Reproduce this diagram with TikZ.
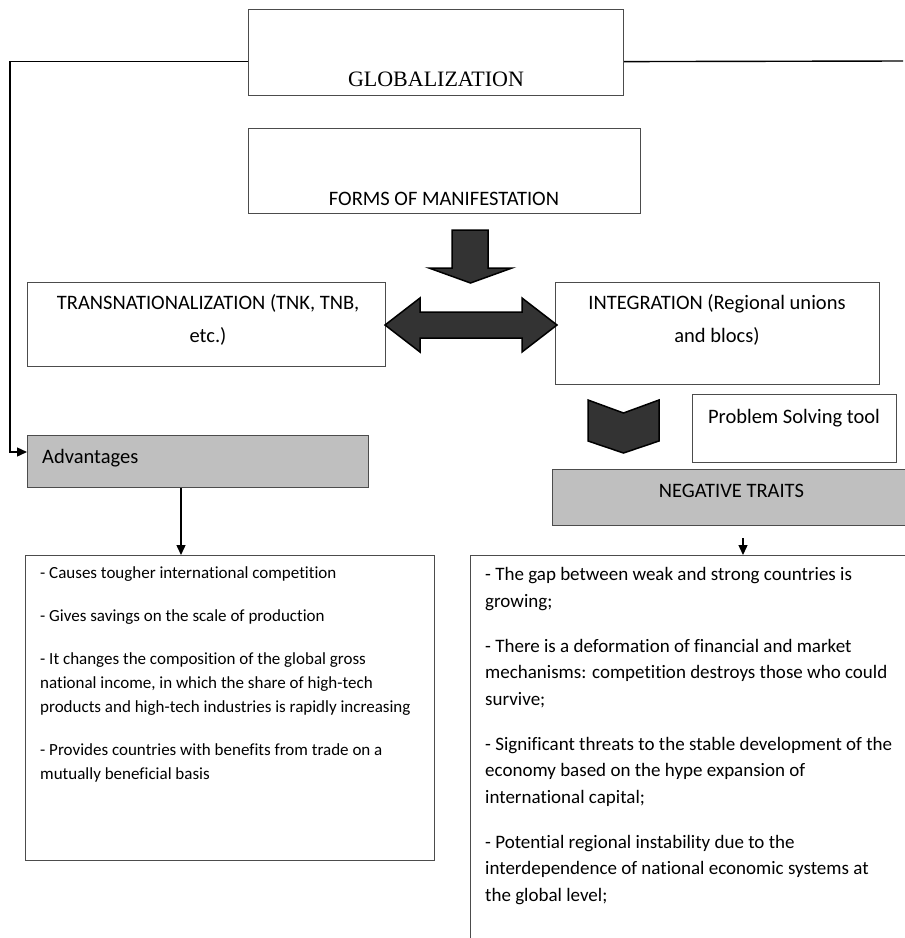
\documentclass[tikz,border=0pt]{standalone}
\usepackage{fontspec}
\setmainfont[Ligatures=NoCommon]{Carlito}
\newfontfamily\serifface{Liberation Serif}
\usetikzlibrary{arrows.meta}
\definecolor{traitgrey}{RGB}{191,191,191}
\definecolor{arrowfill}{RGB}{51,51,51}

\begin{document}
\begin{tikzpicture}[x=1pt,y=-1pt,>={Triangle[length=10pt,width=9pt]},
  box/.style={draw=black!70,line width=1.2pt,anchor=north west,inner sep=0pt},
  greybox/.style={box,fill=traitgrey},
  lbl/.style={font=\fontsize{20.5}{33}\selectfont,inner sep=0pt,anchor=base},
  listtxt/.style={align=left,inner sep=0pt,anchor=north west},
  link/.style={line width=1.4pt,->},
  blockarrow/.style={fill=arrowfill,draw=black,line width=1.5pt,line join=miter}]
  \useasboundingbox (0,0) rectangle (905,938);
  % boxes
  \node[box,minimum width=375,minimum height=86] (glob) at (248,9) {};
  \node[box,minimum width=392,minimum height=85] (forms) at (248,128) {};
  \node[box,minimum width=358,minimum height=84] (trans) at (27,282) {};
  \node[box,minimum width=324,minimum height=102] (integ) at (555,282) {};
  \node[box,minimum width=204,minimum height=68] (probl) at (692,394) {};
  \node[greybox,minimum width=341,minimum height=52] (adv) at (27,435) {};
  \node[greybox,minimum width=380,minimum height=56] (negtr) at (552,469) {};
  \node[box,minimum width=409,minimum height=305] (pros) at (25,555) {};
  \node[box,minimum width=460,minimum height=420] (cons) at (470,555) {};
  % labels
  \node[lbl,font=\serifface\fontsize{22}{24}\selectfont] (globtxt) at (436,86) {GLOBALIZATION};
  \node[lbl] (formstxt) at (444,205.5) {FORMS OF MANIFESTATION};
  \node[lbl,anchor=center,align=center] (transtxt) at (208,320) {TRANSNATIONALIZATION (TNK, TNB,\\etc.)};
  \node[lbl,anchor=center,align=center] (integtxt) at (717,320) {INTEGRATION (Regional unions\\and blocs)};
  \node[lbl] (probltxt) at (794,423) {Problem Solving tool};
  \node[lbl] (negtrtxt) at (731.5,497.5) {NEGATIVE TRAITS};
  \node[lbl,anchor=base west] (advtxt) at (42,463) {Advantages};
  \node[listtxt,font=\fontsize{17}{24}\selectfont] (prostxt) at (40,566.5) {%
    - Causes tougher international competition\\[19pt]
    - Gives savings on the scale of production\\[19pt]
    - It changes the composition of the global gross\\
    national income, in which the share of high-tech\\
    products and high-tech industries is rapidly increasing\\[19pt]
    - Provides countries with benefits from trade on a\\
    mutually beneficial basis};
  \node[listtxt,font=\fontsize{19}{26.5}\selectfont] (constxt) at (485,567.5) {%
    - The gap between weak and strong countries is\\
    growing;\\[18.5pt]
    - There is a deformation of financial and market\\
    mechanisms: competition destroys those who could\\
    survive;\\[18.5pt]
    - Significant threats to the stable development of the\\
    economy based on the hype expansion of\\
    international capital;\\[18.5pt]
    - Potential regional instability due to the\\
    interdependence of national economic systems at\\
    the global level;};
  % block arrows
  \draw[blockarrow] (452,230) -- (488,230) -- (488,268) -- (512,268) -- (470.5,283)
    -- (429,268) -- (452,268) -- cycle;
  \draw[blockarrow] (385,325) -- (420,298) -- (420,312) -- (522,312) -- (522,298)
    -- (557,325) -- (522,352) -- (522,338) -- (420,338) -- (420,352) -- cycle;
  \draw[blockarrow] (588,400) -- (623.5,413) -- (659,400) -- (659,441) -- (623.5,453)
    -- (588,441) -- cycle;
  % connectors
  \coordinate (bend) at (10,452);
  \coordinate (offpage) at (903,61);
  \coordinate (tick) at (743,538);
  \draw[link] ([yshift=-9pt]glob.west) -| (bend) -- (bend -| adv.west);
  \draw[line width=1.4pt] ([yshift=-9pt]glob.east) -- (offpage);
  \draw[link] ([xshift=154pt]adv.south west) coordinate (drop) -- (drop |- pros.north);
  \draw[link] (tick) -- (tick |- cons.north);
\end{tikzpicture}
\end{document}
